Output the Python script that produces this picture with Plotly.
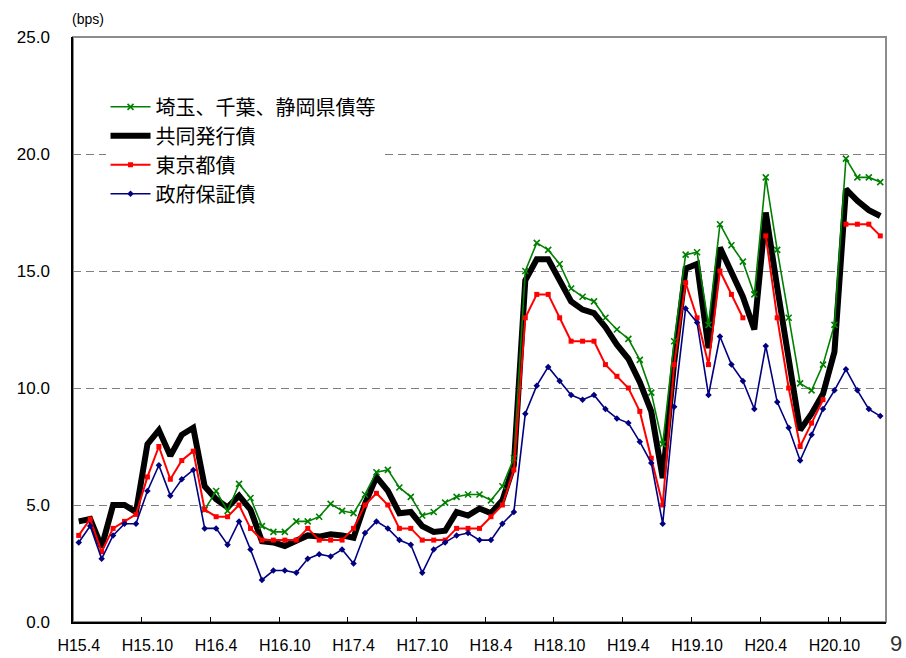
import plotly.graph_objects as go

# Monthly observation labels (Heisei era): H15.4 through H21.2
months = []
yr, mo = 15, 4
for _ in range(71):
    months.append(f"H{yr}.{mo}")
    mo += 1
    if mo > 12:
        mo, yr = 1, yr + 1

tick_labels = months[::6]

# Spreads over JGB (bps)
saitama_chiba_shizuoka = [
    None, None, None, None, None, None, None, None, None, None,
    None, 4.8, 5.6, 4.75, 5.9, 5.3, 4.1, 3.85, 3.85, 4.3,
    4.3, 4.5, 5.05, 4.75, 4.65, 5.45, 6.4, 6.5, 5.75, 5.35,
    4.55, 4.7, 5.1, 5.35, 5.45, 5.45, 5.2, 5.8, 7.0, 15.0,
    16.2, 15.9, 15.3, 14.25, 13.9, 13.7, 13.0, 12.5, 12.1, 11.2,
    9.8, 7.6, 12.0, 15.7, 15.8, 12.7, 17.0, 16.1, 15.4, 14.0,
    19.0, 15.9, 13.0, 10.2, 9.9, 11.0, 12.7, 19.8, 19.0, 19.0,
    18.8,
]

joint_issue = [
    4.3, 4.4, 3.2, 5.0, 5.0, 4.7, 7.6, 8.2, 7.1, 8.0,
    8.3, 5.8, 5.25, 4.9, 5.4, 4.8, 3.45, 3.4, 3.25, 3.5,
    3.7, 3.65, 3.75, 3.7, 3.6, 5.05, 6.2, 5.6, 4.65, 4.7,
    4.1, 3.85, 3.9, 4.7, 4.55, 4.85, 4.65, 5.2, 6.7, 14.6,
    15.5, 15.5, 14.6, 13.7, 13.35, 13.2, 12.6, 11.85, 11.25, 10.25,
    9.0, 6.15, 11.1, 15.1, 15.3, 11.7, 16.0, 15.0, 13.9, 12.5,
    17.5, 14.3, 11.2, 8.2, 8.9, 9.75, 11.55, 18.5, 18.0, 17.6,
    17.35,
]

tokyo = [
    3.7, 4.4, 3.0, 4.0, 4.3, 4.6, 6.2, 7.5, 6.1, 6.9,
    7.3, 4.8, 4.5, 4.5, 5.0, 4.0, 3.5, 3.5, 3.5, 3.5,
    4.0, 3.5, 3.5, 3.5, 4.0, 5.0, 5.5, 5.0, 4.0, 4.0,
    3.5, 3.5, 3.5, 4.0, 4.0, 4.0, 4.5, 5.0, 6.5, 13.0,
    14.0, 14.0, 13.0, 12.0, 12.0, 12.0, 11.0, 10.5, 10.0, 9.0,
    7.0, 5.0, 11.0, 14.5, 13.0, 11.0, 15.0, 14.0, 13.0, None,
    16.5, 13.0, 10.0, 7.5, 8.5, 9.5, None, 17.0, 17.0, 17.0,
    16.5,
]

govt_guaranteed = [
    3.4, 4.1, 2.7, 3.7, 4.2, 4.2, 5.6, 6.7, 5.4, 6.1,
    6.5, 4.0, 4.0, 3.3, 4.3, 3.1, 1.8, 2.2, 2.2, 2.1,
    2.7, 2.9, 2.8, 3.1, 2.5, 3.8, 4.3, 4.0, 3.5, 3.3,
    2.1, 3.1, 3.4, 3.7, 3.8, 3.5, 3.5, 4.2, 4.7, 8.9,
    10.1, 10.9, 10.3, 9.7, 9.5, 9.7, 9.1, 8.7, 8.5, 7.7,
    6.8, 4.2, 9.2, 13.4, 12.8, 9.7, 12.2, 11.0, 10.3, 9.1,
    11.8, 9.4, 8.3, 6.9, 8.0, 9.1, 9.9, 10.8, 9.9, 9.1,
    8.8,
]

TICK_FONT = dict(family="Liberation Sans, Arial, sans-serif", size=16, color="black")
CJK_FONT = "Noto Sans CJK JP, Noto Sans CJK SC, sans-serif"

fig = go.Figure()

fig.add_trace(go.Scatter(
    x=months, y=joint_issue, name="共同発行債", mode="lines",
    line=dict(color="black", width=6), legendrank=2,
))
fig.add_trace(go.Scatter(
    x=months, y=saitama_chiba_shizuoka, name="埼玉、千葉、静岡県債等",
    mode="lines+markers", line=dict(color="#008000", width=1.6),
    marker=dict(symbol="x-thin", size=6, line=dict(color="#008000", width=1.6)),
    legendrank=1,
))
fig.add_trace(go.Scatter(
    x=months, y=tokyo, name="東京都債", mode="lines+markers",
    line=dict(color="#FF0000", width=2),
    marker=dict(symbol="square", size=5, color="#FF0000"),
    connectgaps=False, legendrank=3,
))
fig.add_trace(go.Scatter(
    x=months, y=govt_guaranteed, name="政府保証債", mode="lines+markers",
    line=dict(color="#000080", width=1.6),
    marker=dict(symbol="diamond", size=5, color="#000080"),
    legendrank=4,
))

fig.update_layout(
    width=906, height=658,
    margin=dict(l=73, r=20, t=37, b=36),
    paper_bgcolor="white", plot_bgcolor="white",
    showlegend=True,
    legend=dict(
        x=0.04, y=0.914, xanchor="left", yanchor="top",
        bgcolor="white", borderwidth=0,
        font=dict(family=CJK_FONT, size=20, color="black"),
        itemwidth=40,
    ),
    xaxis=dict(
        type="category", range=[-0.5, 70.5], automargin=False,
        tickmode="array", tickvals=tick_labels, ticktext=tick_labels,
        tickangle=0,
        tickson="boundaries", ticks="inside", ticklen=5, tickcolor="black",
        showline=True, linecolor="black", linewidth=1.5,
        showgrid=False, zeroline=False, tickfont=TICK_FONT,
        ticklabelstandoff=8,
    ),
    yaxis=dict(
        range=[0, 25], dtick=5, tickformat=".1f", automargin=False,
        showgrid=True, gridcolor="#7f7f7f", gridwidth=1, griddash="8px,5px",
        showline=True, linecolor="black", linewidth=1.5,
        zeroline=False, ticks="", tickfont=dict(TICK_FONT, size=17),
        ticklabelstandoff=18,
    ),
    shapes=[dict(
        type="rect", xref="paper", yref="paper", x0=0, x1=1, y0=0, y1=1,
        line=dict(color="#8c8c8c", width=2), layer="below",
    )],
    annotations=[
        dict(text="(bps)", xref="paper", yref="paper", x=-0.004, y=1.03,
             xanchor="left", yanchor="middle", showarrow=False,
             font=dict(family="Liberation Sans, Arial, sans-serif", size=14, color="black")),
        dict(text="9", xref="paper", yref="paper", x=1.012, y=-0.036,
             xanchor="center", yanchor="middle", showarrow=False,
             font=dict(family="Liberation Sans, Arial, sans-serif", size=22, color="#333333")),
    ],
)

fig.write_html("out.html")
